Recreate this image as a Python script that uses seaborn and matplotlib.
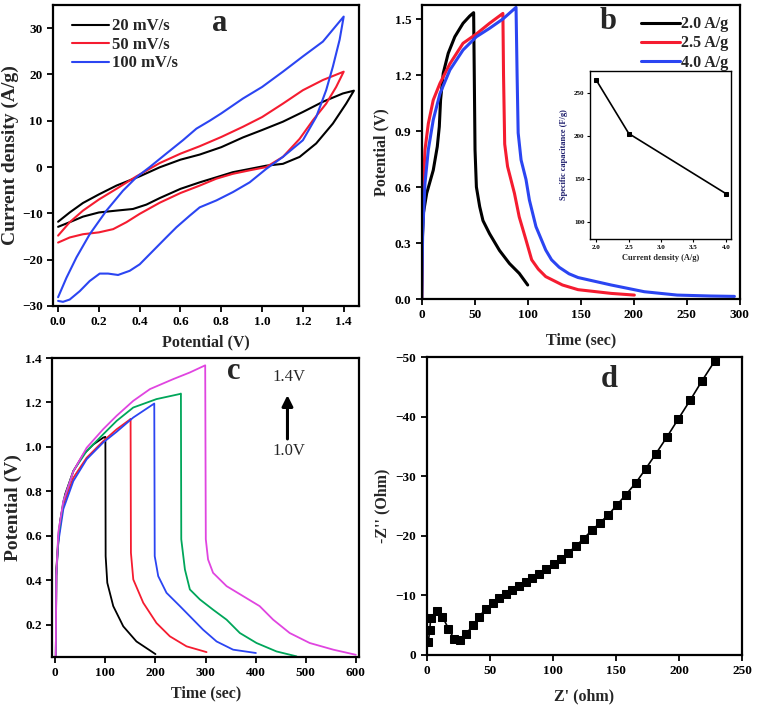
import numpy as np
import pandas as pd
import matplotlib
matplotlib.use("Agg")
import matplotlib.pyplot as plt
import seaborn as sns

# ---------------- data ----------------
# (a) CV loops: potential (V) and current density (A/g)
cv20_v = [0, 0.057, 0.122, 0.2, 0.286, 0.4, 0.498, 0.6, 0.694, 0.8, 0.906, 1.0, 1.102, 1.2, 1.298, 1.396, 1.45,
          1.412, 1.347, 1.265, 1.184, 1.102, 1.02, 0.939, 0.857, 0.776, 0.694, 0.6, 0.498, 0.433, 0.367, 0.286,
          0.2, 0.122, 0.057, 0]
cv20_i = [-11.8, -9.8, -7.75, -5.9, -4.0, -2.0, -0.05, 1.6, 2.7, 4.3, 6.4, 8.0, 9.8, 11.9, 14.1, 15.9, 16.5,
          13.7, 9.4, 5.1, 2.2, 0.7, 0.3, -0.4, -1.1, -2.2, -3.3, -4.7, -6.7, -8.1, -9.05, -9.4,
          -9.8, -10.7, -11.9, -12.9]
cv50_v = [0, 0.057, 0.122, 0.2, 0.286, 0.384, 0.498, 0.6, 0.694, 0.8, 0.906, 1.0, 1.102, 1.2, 1.298, 1.4,
          1.363, 1.314, 1.249, 1.184, 1.102, 1.02, 0.939, 0.857, 0.776, 0.694, 0.6, 0.498, 0.4, 0.335, 0.27,
          0.2, 0.122, 0.057, 0]
cv50_i = [-14.8, -11.9, -9.4, -7.0, -4.7, -2.0, 0.86, 2.9, 4.5, 6.5, 8.7, 10.8, 13.7, 16.6, 18.8, 20.6,
          17.3, 13.7, 10.1, 6.1, 2.2, 0.0, -0.7, -1.45, -2.5, -4.0, -5.6, -7.7, -10.1, -11.9, -13.4,
          -14.1, -14.5, -15.2, -16.3]
cv100_v = [0, 0.041, 0.09, 0.155, 0.237, 0.318, 0.384, 0.449, 0.53, 0.612, 0.678, 0.743, 0.8, 0.906, 1.0,
           1.102, 1.2, 1.298, 1.4, 1.38, 1.347, 1.314, 1.265, 1.2, 1.102, 1.02, 0.939, 0.857, 0.776, 0.694,
           0.645, 0.58, 0.53, 0.465, 0.4, 0.351, 0.294, 0.245, 0.204, 0.155, 0.106, 0.057, 0.024, 0]
cv100_i = [-28.1, -23.9, -19.5, -14.5, -9.4, -5.1, -2.2, 0.0, 2.9, 5.8, 8.3, 10.0, 11.6, 14.8, 17.3,
           20.6, 23.9, 27.1, 32.5, 27.5, 21.7, 16.6, 10.8, 5.8, 2.2, -0.4, -3.3, -5.4, -7.2, -8.7,
           -10.5, -13.0, -15.2, -18.1, -21.0, -22.4, -23.3, -23.0, -23.0, -24.6, -26.8, -28.6, -29.1, -28.9]

# (b) GCD curves at different current densities
gcd2_t = [0, 0.5, 1.6, 4.7, 10.9, 14.7, 16.6, 17.8, 20.3, 25, 31.25, 39, 45.3, 49, 49.6, 50.3, 51.6, 54.7,
          57.8, 64, 73.4, 82.8, 92, 100]
gcd2_v = [0, 0.3, 0.46, 0.566, 0.69, 0.816, 0.923, 1.066, 1.209, 1.316, 1.405, 1.477, 1.516, 1.534, 1.2,
          0.8, 0.6, 0.495, 0.42, 0.35, 0.26, 0.19, 0.1375, 0.075]
gcd25_t = [0, 0.9, 3.1, 6.25, 10.9, 17.2, 26.6, 39, 51.6, 64, 76.6, 77.2, 78.3, 81, 87.5, 92, 98.4, 103.75,
           110, 117, 132.8, 147.5, 178.75, 200.6]
gcd25_v = [0, 0.53, 0.8, 0.94, 1.066, 1.155, 1.26, 1.37, 1.42, 1.477, 1.53, 1.2, 0.83, 0.71, 0.566, 0.44,
           0.316, 0.21, 0.16, 0.12, 0.075, 0.05, 0.03, 0.021]
gcd4_t = [0, 0.9, 3.1, 6.25, 10.9, 17.2, 26.6, 39, 51.6, 64, 76.6, 89, 90, 91, 93.75, 98.4, 101.6, 107.8,
          117, 122.5, 129.7, 139, 147.5, 178.75, 210, 241, 272.5, 295]
gcd4_v = [0, 0.35, 0.62, 0.8, 0.96, 1.10, 1.227, 1.334, 1.405, 1.45, 1.50, 1.5625, 1.2, 0.89, 0.745, 0.64,
          0.53, 0.3875, 0.2625, 0.21, 0.17, 0.135, 0.115, 0.075, 0.039, 0.021, 0.016, 0.014]

# (b) inset: specific capacitance vs current density
inset_j = [2.0, 2.5, 4.0]
inset_c = [265, 203, 133]

# (c) GCD curves at different potential windows
c1_t = [1, 2, 4, 9.4, 19.4, 36, 56, 76, 96, 100, 100.5, 103.8, 115.7, 135.7, 162, 200]
c1_v = [0.054, 0.45, 0.514, 0.665, 0.785, 0.891, 0.966, 1.011, 1.042, 1.045, 0.508, 0.388, 0.283, 0.192,
        0.124, 0.067]
c2_t = [1, 2, 6, 16, 36, 62.6, 95.8, 122.5, 149, 150.3, 151, 155.7, 175.6, 202, 228.8, 262, 302]
c2_v = [0.054, 0.42, 0.59, 0.74, 0.861, 0.951, 1.026, 1.079, 1.123, 1.126, 0.523, 0.403, 0.298, 0.207,
        0.147, 0.102, 0.076]
c3_t = [1, 2, 6, 16, 36, 62.6, 95.8, 122.5, 155.6, 197.6, 198.5, 205.5, 222, 248.8, 275.4, 295, 322, 355,
        400.5]
c3_v = [0.054, 0.42, 0.57, 0.72, 0.846, 0.944, 1.02, 1.068, 1.132, 1.195, 0.508, 0.418, 0.343, 0.283,
        0.222, 0.177, 0.124, 0.087, 0.072]
c4_t = [1, 2, 6, 16, 36, 62.6, 95.8, 122.5, 155.6, 202, 248.8, 250.8, 251.5, 258.8, 268.7, 288.7, 315, 342,
        368.5, 401.8, 441.7, 481.6]
c4_v = [0.054, 0.42, 0.6, 0.755, 0.891, 0.981, 1.057, 1.117, 1.177, 1.215, 1.238, 1.24, 0.584, 0.448,
        0.358, 0.313, 0.267, 0.222, 0.162, 0.117, 0.079, 0.057]
c5_t = [1, 2, 6, 16, 36, 62.6, 95.8, 122.5, 155.6, 189, 235.5, 268.8, 299.3, 300.5, 305, 315, 342, 375, 408,
        435, 468, 508, 555, 600]
c5_v = [0.054, 0.42, 0.615, 0.755, 0.89, 0.996, 1.08, 1.14, 1.207, 1.26, 1.305, 1.335, 1.367, 0.584, 0.493,
        0.433, 0.373, 0.328, 0.283, 0.222, 0.162, 0.117, 0.087, 0.064]

# (d) Nyquist plot
z_re = [1.3, 2.4, 3.2, 7.9, 12.4, 17.2, 21.6, 26.4, 31.4, 36.7, 41.7, 46.7, 52.3, 57.3, 62.6, 67.8, 73.1,
        78.4, 83.7, 89.2, 94.8, 100.6, 106.1, 111.9, 118.0, 124.3, 130.9, 137.5, 143.9, 150.5, 157.9, 165.8,
        173.4, 181.4, 190.1, 199.3, 208.6, 217.8, 228.4]
z_im = [-2.2, -4.1, -6.2, -7.4, -6.4, -4.4, -2.7, -2.5, -3.5, -5.0, -6.4, -7.7, -8.7, -9.5, -10.2, -10.9,
        -11.5, -12.2, -12.8, -13.6, -14.4, -15.2, -16.1, -17.1, -18.2, -19.5, -20.9, -22.2, -23.5, -25.1,
        -26.9, -28.9, -31.2, -33.7, -36.5, -39.6, -42.7, -45.9, -49.4]

# ---------------- style ----------------
sns.set_style("ticks")
plt.rcParams['font.family'] = ['Liberation Serif', 'DejaVu Serif']
plt.rcParams['font.weight'] = 'bold'
plt.rcParams['axes.labelweight'] = 'bold'
plt.rcParams['axes.linewidth'] = 1.6
plt.rcParams['xtick.major.width'] = 1.3
plt.rcParams['ytick.major.width'] = 1.3
plt.rcParams['xtick.major.size'] = 4
plt.rcParams['ytick.major.size'] = 4
plt.rcParams['xtick.labelsize'] = 9.5
plt.rcParams['ytick.labelsize'] = 9.5
plt.rcParams['axes.labelsize'] = 11.5
plt.rcParams['xtick.color'] = 'black'
plt.rcParams['ytick.color'] = 'black'
plt.rcParams['axes.edgecolor'] = 'black'

RED = '#f51c30'
BLUE = '#2b45f2'
GREEN = '#00a65a'
MAG = '#e045e0'

W, H = 758, 706
fig = plt.figure(figsize=(W / 100, H / 100), dpi=100)


def box(l, t, r, b):
    return [l / W, 1 - b / H, (r - l) / W, (b - t) / H]


def line(ax, x, y, color, lw, label=None, **kw):
    df = pd.DataFrame({'x': x, 'y': y})
    sns.lineplot(data=df, x='x', y='y', sort=False, estimator=None, color=color, lw=lw,
                 label=label, ax=ax, **kw)


# ---- (a) ----
axa = fig.add_axes(box(53, 5, 359, 306))
line(axa, cv20_v, cv20_i, 'black', 1.5, '20 mV/s')
line(axa, cv50_v, cv50_i, RED, 1.5, '50 mV/s')
line(axa, cv100_v, cv100_i, BLUE, 1.5, '100 mV/s')
axa.set_xlim(-0.025, 1.475)
axa.set_ylim(-30, 35)
axa.set_xticks(np.arange(0, 1.41, 0.2))
axa.set_xticklabels([f"{v:.1f}" for v in np.arange(0, 1.41, 0.2)])
axa.set_yticks(np.arange(-30, 31, 10))
axa.set_xlabel('Potential (V)')
axa.set_ylabel('Current density (A/g)', fontsize=14, labelpad=2)
axa.legend(loc='upper left', frameon=False, fontsize=12, handlelength=2.2, handletextpad=0.15,
           labelspacing=0.15, borderaxespad=0.4, bbox_to_anchor=(0.02, 1.0))
axa.text(0.545, 0.94, 'a', transform=axa.transAxes, fontsize=22, fontweight='bold', ha='center', va='center')

# ---- (b) ----
axb = fig.add_axes(box(421.7, 5, 739.7, 299))
line(axb, gcd2_t, gcd2_v, 'black', 2.2, '2.0 A/g')
line(axb, gcd25_t, gcd25_v, RED, 2.2, '2.5 A/g')
line(axb, gcd4_t, gcd4_v, BLUE, 2.2, '4.0 A/g')
axb.set_xlim(0, 300)
axb.set_ylim(0, 1.575)
axb.set_xticks(np.arange(0, 301, 50))
axb.set_yticks(np.arange(0, 1.51, 0.3))
axb.set_yticklabels([f"{v:.1f}" for v in np.arange(0, 1.51, 0.3)])
axb.set_xlabel('Time (sec)', labelpad=8)
axb.set_ylabel('Potential (V)')
axb.legend(loc='upper right', frameon=False, fontsize=11.5, handlelength=2.4, handletextpad=0.1,
           labelspacing=0.2, borderaxespad=0.3)
axb.text(0.585, 0.945, 'b', transform=axb.transAxes, fontsize=22, fontweight='bold', ha='center', va='center')

# inset
axi = fig.add_axes(box(590, 71, 731, 239))
line(axi, inset_j, inset_c, 'black', 1.2, marker='s', markersize=3.5, markeredgecolor='black')
axi.set_xlim(1.9, 4.08)
axi.set_ylim(80, 276)
axi.set_xticks(np.arange(2.0, 4.01, 0.5))
axi.set_xticklabels([f"{v:.1f}" for v in np.arange(2.0, 4.01, 0.5)])
axi.set_yticks([100, 150, 200, 250])
axi.tick_params(labelsize=5, length=2, width=0.8, pad=2)
for s in axi.spines.values():
    s.set_linewidth(1.0)
axi.set_xlabel('Current density (A/g)', fontsize=6, labelpad=3)
axi.set_ylabel('Specific capacitance (F/g)', fontsize=6, color='#1c1c6c', labelpad=4)

# ---- (c) ----
axc = fig.add_axes(box(52.3, 358, 359.3, 657))
line(axc, c1_t, c1_v, 'black', 1.3)
line(axc, c2_t, c2_v, RED, 1.3)
line(axc, c3_t, c3_v, BLUE, 1.3)
line(axc, c4_t, c4_v, GREEN, 1.3)
line(axc, c5_t, c5_v, MAG, 1.3)
axc.set_xlim(-6, 607)
axc.set_ylim(0.054, 1.4)
axc.set_xticks(np.arange(0, 601, 100))
axc.set_yticks(np.arange(0.2, 1.41, 0.2))
axc.set_yticklabels([f"{v:.1f}" for v in np.arange(0.2, 1.41, 0.2)])
axc.set_xlabel('Time (sec)')
axc.set_ylabel('Potential (V)', fontsize=14, labelpad=2)
axc.text(0.59, 0.955, 'c', transform=axc.transAxes, fontsize=22, fontweight='bold', ha='center', va='center')
axc.text(0.77, 0.935, '1.4V', transform=axc.transAxes, fontsize=12, fontweight='normal', ha='center', va='center')
axc.text(0.77, 0.69, '1.0V', transform=axc.transAxes, fontsize=12, fontweight='normal', ha='center', va='center')
axc.annotate('', xy=(0.766, 0.885), xytext=(0.766, 0.72), xycoords='axes fraction',
             arrowprops=dict(arrowstyle='-|>', color='black', lw=2.2, mutation_scale=16))

# ---- (d) ----
axd = fig.add_axes(box(426.7, 357, 742.3, 654.7))
line(axd, z_re, z_im, 'black', 1.2, marker='s', markersize=5.5, markeredgecolor='black')
axd.set_xlim(0, 250)
axd.set_ylim(0, -50)
axd.set_xticks(np.arange(0, 251, 50))
axd.set_yticks(np.arange(0, -51, -10))
axd.set_xlabel("Z' (ohm)", labelpad=8)
axd.set_ylabel("-Z'' (Ohm)")
axd.text(0.58, 0.925, 'd', transform=axd.transAxes, fontsize=22, fontweight='bold', ha='center', va='center')

for ax in (axa, axb, axc, axd):
    ax.tick_params(direction='out', top=False, right=False)
    for s in ax.spines.values():
        s.set_visible(True)

fig.savefig('out.png', dpi=100)
